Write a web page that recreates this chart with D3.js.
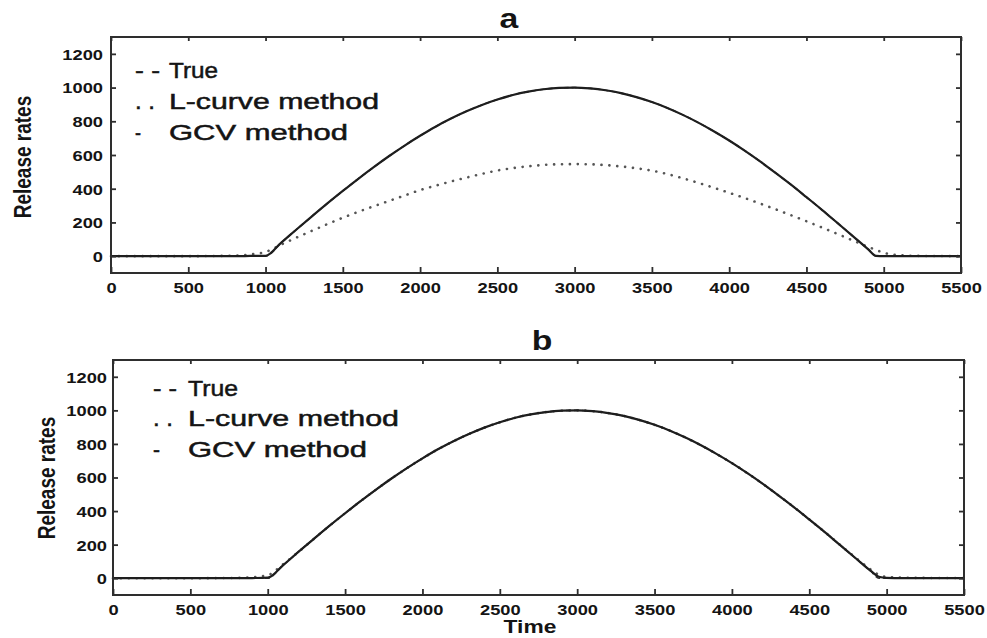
<!DOCTYPE html>
<html>
<head>
<meta charset="utf-8">
<script src="https://cdn.jsdelivr.net/npm/d3@7"></script>
<style>
  html, body { margin: 0; padding: 0; background: #fff; }
  svg { display: block; }
</style>
</head>
<body>
<svg id="chart" width="987" height="638"></svg>
<script>
// Release-rate reconstructions: true source vs. L-curve and GCV regularisation
const timeSteps = [0, 500, 800, 900, 1000, 1100, 1200, 1300, 1400, 1500, 1600, 1700, 1800, 1900,
  2000, 2100, 2200, 2300, 2400, 2500, 2600, 2700, 2800, 2900, 3000, 3100, 3200, 3300, 3400, 3500,
  3600, 3700, 3800, 3900, 4000, 4100, 4200, 4300, 4400, 4500, 4600, 4700, 4800, 4900, 4950, 5000,
  5100, 5200, 5500];

const trueRates = [0, 0, 0, 0, 0, 79, 158, 236, 313, 387, 459, 528, 594, 656,
  714, 768, 816, 859, 897, 929, 956, 976, 990, 998, 1000, 995, 984, 967, 943, 914,
  879, 838, 792, 741, 686, 626, 562, 494, 424, 350, 275, 197, 119, 40, 0, 0,
  0, 0, 0];

// panel a
const lcurveA = [0, 0, 3, 10, 25, 68, 110, 150, 190, 228, 263, 296, 328, 360,
  392, 418, 443, 466, 488, 508, 522, 533, 541, 545, 546, 545, 540, 532, 521, 507,
  487, 462, 435, 406, 376, 345, 312, 278, 243, 207, 170, 132, 93, 55, 37, 20,
  6, 2, 0];
const gcvA = [0, 0, 0, 1, 2, 79, 158, 236, 313, 387, 459, 528, 594, 656,
  714, 768, 816, 859, 897, 929, 956, 976, 990, 998, 1000, 995, 984, 967, 943, 914,
  879, 838, 792, 741, 686, 626, 562, 494, 424, 350, 275, 197, 119, 40, 2, 0,
  0, 0, 0];

// panel b
const lcurveB = [0, 0, 2, 6, 18, 84, 158, 236, 313, 387, 459, 528, 594, 656,
  714, 768, 816, 859, 897, 929, 956, 976, 990, 998, 1000, 995, 984, 967, 943, 914,
  879, 838, 792, 741, 686, 626, 562, 494, 424, 350, 275, 198, 122, 50, 20, 8,
  3, 2, 1];
const gcvB = [0, 0, 0, 1, 3, 78, 158, 236, 313, 387, 459, 528, 594, 656,
  714, 768, 816, 859, 897, 929, 956, 976, 990, 998, 1000, 995, 984, 967, 943, 914,
  879, 838, 792, 741, 686, 626, 562, 494, 424, 350, 275, 197, 119, 42, 9, 2,
  0, 0, 0];

const xTicks = [0, 500, 1000, 1500, 2000, 2500, 3000, 3500, 4000, 4500, 5000, 5500];
const yTicks = [0, 200, 400, 600, 800, 1000, 1200];
const xDomain = [0, 5500];
const yDomain = [-100, 1300];

const legendMarks = ["- -", ". .", "-"];
const legendLabels = ["True", "L-curve method", "GCV method"];
const panelTitles = ["a", "b"];
const yAxisTitle = "Release rates";
const xAxisTitle = "Time";

const INK = "#141414";
const FRAME = "#2e2e2e";
const FONT = "'Liberation Sans', Arial, Helvetica, sans-serif";
const SX = 1.22; // horizontal stretch of the lettering

const panels = [
  {
    title: panelTitles[0], lcurve: lcurveA, gcv: gcvA,
    left: 111, right: 961, top: 37, bottom: 273,
    titleX: 509, titleY: 28,
    ylabX: 23, ylabY: 157, tickGap: 8,
    markX: 135, labelX: 169, legendY: [78, 109, 140],
    labelWidths: [49, 210, 179], markWidths: [25, 20, 6]
  },
  {
    title: panelTitles[1], lcurve: lcurveB, gcv: gcvB,
    left: 113, right: 964, top: 360, bottom: 595,
    titleX: 542, titleY: 350,
    ylabX: 47, ylabY: 478, tickGap: 6,
    markX: 153, labelX: 188, legendY: [396, 426, 457],
    labelWidths: [50, 211, 179], markWidths: [24, 20, 7]
  }
];

const svg = d3.select("#chart");
svg.append("rect").attr("width", 987).attr("height", 638).attr("fill", "#fff");

panels.forEach((p) => {
  const x = d3.scaleLinear().domain(xDomain).range([p.left, p.right]);
  const y = d3.scaleLinear().domain(yDomain).range([p.bottom, p.top]);
  const g = svg.append("g");

  // series
  const line = (vals) => d3.line()
    .x((d, i) => x(timeSteps[i]))
    .y((d) => y(d))
    .curve(d3.curveMonotoneX)(vals);

  g.append("path").attr("d", line(trueRates))
    .attr("fill", "none").attr("stroke", "#333").attr("stroke-width", 1.6)
    .attr("stroke-dasharray", "5 3");
  g.append("path").attr("d", line(p.lcurve))
    .attr("fill", "none").attr("stroke", "#555").attr("stroke-width", 2.6)
    .attr("stroke-linecap", "round").attr("stroke-dasharray", "0.1 7.8");
  g.append("path").attr("d", line(p.gcv))
    .attr("fill", "none").attr("stroke", "#1e1e1e").attr("stroke-width", 2.2);

  // axes with inward ticks
  const styleTicks = (sel) => {
    sel.select(".domain").remove();
    sel.selectAll(".tick line").attr("stroke", FRAME).attr("stroke-width", 1.8);
  };

  const bottomAxis = g.append("g")
    .attr("transform", `translate(0,${p.bottom})`)
    .call(d3.axisBottom(x).tickValues(xTicks).tickSizeInner(-6).tickSizeOuter(0)
      .tickFormat(d3.format("d")));
  styleTicks(bottomAxis);
  bottomAxis.selectAll(".tick text")
    .attr("y", 20).attr("dy", null)
    .attr("transform", `scale(${SX},1)`)
    .attr("fill", INK)
    .style("font-family", FONT).style("font-weight", "bold").style("font-size", "15px");

  const topAxis = g.append("g")
    .attr("transform", `translate(0,${p.top})`)
    .call(d3.axisTop(x).tickValues(xTicks).tickSizeInner(-4).tickSizeOuter(0).tickFormat(""));
  styleTicks(topAxis);

  const leftAxis = g.append("g")
    .attr("transform", `translate(${p.left},0)`)
    .call(d3.axisLeft(y).tickValues(yTicks).tickSizeInner(-5).tickSizeOuter(0)
      .tickFormat(d3.format("d")));
  styleTicks(leftAxis);
  leftAxis.selectAll(".tick text")
    .attr("x", 0).attr("dy", "0.36em")
    .attr("text-anchor", "end")
    .attr("transform", `translate(${-p.tickGap},0) scale(${SX},1)`)
    .attr("fill", INK)
    .style("font-family", FONT).style("font-weight", "bold").style("font-size", "15px");

  const rightAxis = g.append("g")
    .attr("transform", `translate(${p.right},0)`)
    .call(d3.axisRight(y).tickValues(yTicks).tickSizeInner(-5).tickSizeOuter(0).tickFormat(""));
  styleTicks(rightAxis);

  // frame
  g.append("rect")
    .attr("x", p.left).attr("y", p.top)
    .attr("width", p.right - p.left).attr("height", p.bottom - p.top)
    .attr("fill", "none").attr("stroke", FRAME).attr("stroke-width", 2);

  // panel letter
  g.append("text")
    .attr("transform", `translate(${p.titleX},${p.titleY}) scale(1.25,1)`)
    .attr("text-anchor", "middle")
    .attr("fill", INK)
    .style("font-family", FONT).style("font-weight", "bold").style("font-size", "27px")
    .text(p.title);

  // y-axis title
  g.append("text")
    .attr("transform", `translate(${p.ylabX},${p.ylabY}) scale(1.25,1) rotate(-90)`)
    .attr("text-anchor", "middle").attr("dy", "0.35em")
    .attr("fill", INK)
    .style("font-family", FONT).style("font-weight", "bold").style("font-size", "19px")
    .text(yAxisTitle);

  // legend
  legendLabels.forEach((lab, i) => {
    g.append("text")
      .attr("x", p.markX).attr("y", p.legendY[i])
      .attr("textLength", p.markWidths[i]).attr("lengthAdjust", "spacingAndGlyphs")
      .attr("fill", INK).attr("stroke", INK).attr("stroke-width", 0.5)
      .style("font-family", FONT).style("font-size", "22px")
      .text(legendMarks[i]);
    g.append("text")
      .attr("x", p.labelX).attr("y", p.legendY[i])
      .attr("textLength", p.labelWidths[i]).attr("lengthAdjust", "spacingAndGlyphs")
      .attr("fill", INK).attr("stroke", INK).attr("stroke-width", 0.5)
      .style("font-family", FONT).style("font-size", "22px")
      .text(lab);
  });
});

// shared x-axis title
svg.append("text")
  .attr("transform", "translate(530,633) scale(1.2,1)")
  .attr("text-anchor", "middle")
  .attr("fill", INK)
  .style("font-family", FONT).style("font-weight", "bold").style("font-size", "19px")
  .text(xAxisTitle);
</script>
</body>
</html>
